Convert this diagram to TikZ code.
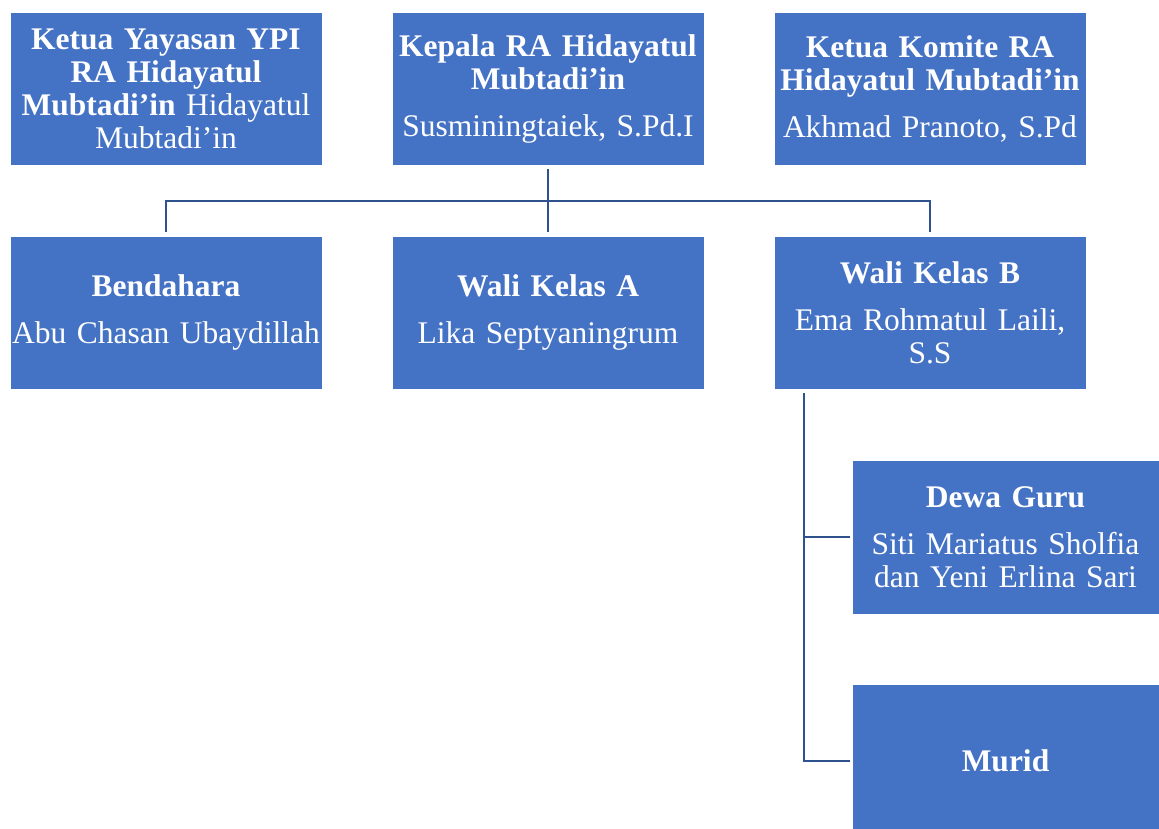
\documentclass[tikz,border=0pt]{standalone}
\usepackage{fontspec}
\setmainfont[WordSpace=0.8]{Liberation Serif}
\definecolor{boxblue}{HTML}{4472C4}
\definecolor{lineblue}{HTML}{2F528F}
\begin{document}
\begin{tikzpicture}[x=1pt,y=-1pt,
  orgbox/.style={rectangle, fill=boxblue, draw=white, line width=0.6pt,
    text=white, inner sep=0pt, minimum width=312pt, minimum height=153pt,
    text width=308pt, align=center,
    font=\fontsize{31.5}{33}\selectfont},
  subbox/.style={orgbox, minimum width=307pt, minimum height=154pt, text width=303pt},
  conn/.style={draw=lineblue, line width=2.6pt}]
\useasboundingbox (0,0) rectangle (1159,829);
\clip (0,0) rectangle (1159,829);
\fill[white] (0,0) rectangle (1159,829);

\node[orgbox] (b1) at (166,88.5) {\textbf{Ketua Yayasan YPI}\\\textbf{RA Hidayatul}\\\textbf{Mubtadi’in} Hidayatul\\Mubtadi’in};
\node[orgbox] (b2) at (548,88.5) {\textbf{Kepala RA Hidayatul}\\\textbf{Mubtadi’in}\\[14pt]Susminingtaiek, S.Pd.I};
\node[orgbox] (b3) at (930,88.5) {\textbf{Ketua Komite RA}\\\textbf{Hidayatul Mubtadi’in}\\[14pt]Akhmad Pranoto, S.Pd};

\node[orgbox] (b4) at (166,312.5) {\textbf{Bendahara}\\[14pt]Abu Chasan Ubaydillah};
\node[orgbox] (b5) at (548,312.5) {\textbf{Wali Kelas A}\\[14pt]Lika Septyaningrum};
\node[orgbox] (b6) at (930,312.5) {\textbf{Wali Kelas B}\\[14pt]Ema Rohmatul Laili,\\S.S};

\node[subbox] (b7) at (1005.5,537) {\textbf{Dewa Guru}\\[14pt]Siti Mariatus Sholfia\\dan Yeni Erlina Sari};
\node[subbox] (b8) at (1005.5,761) {\textbf{Murid}};

\coordinate (j) at (548,201);
\coordinate (t) at (804,389);

\draw[conn, shorten <=4pt, shorten >=4pt] (b2.south) -- (b5.north);
\draw[conn, shorten <=4pt, shorten >=4pt] (b4.north) -- (b4.north |- j) -- (b6.north |- j) -- (b6.north);
\draw[conn, shorten <=4pt, shorten >=2pt] (t) |- (b7.west);
\draw[conn, shorten <=4pt, shorten >=2pt] (t) |- (b8.west);
\end{tikzpicture}
\end{document}
